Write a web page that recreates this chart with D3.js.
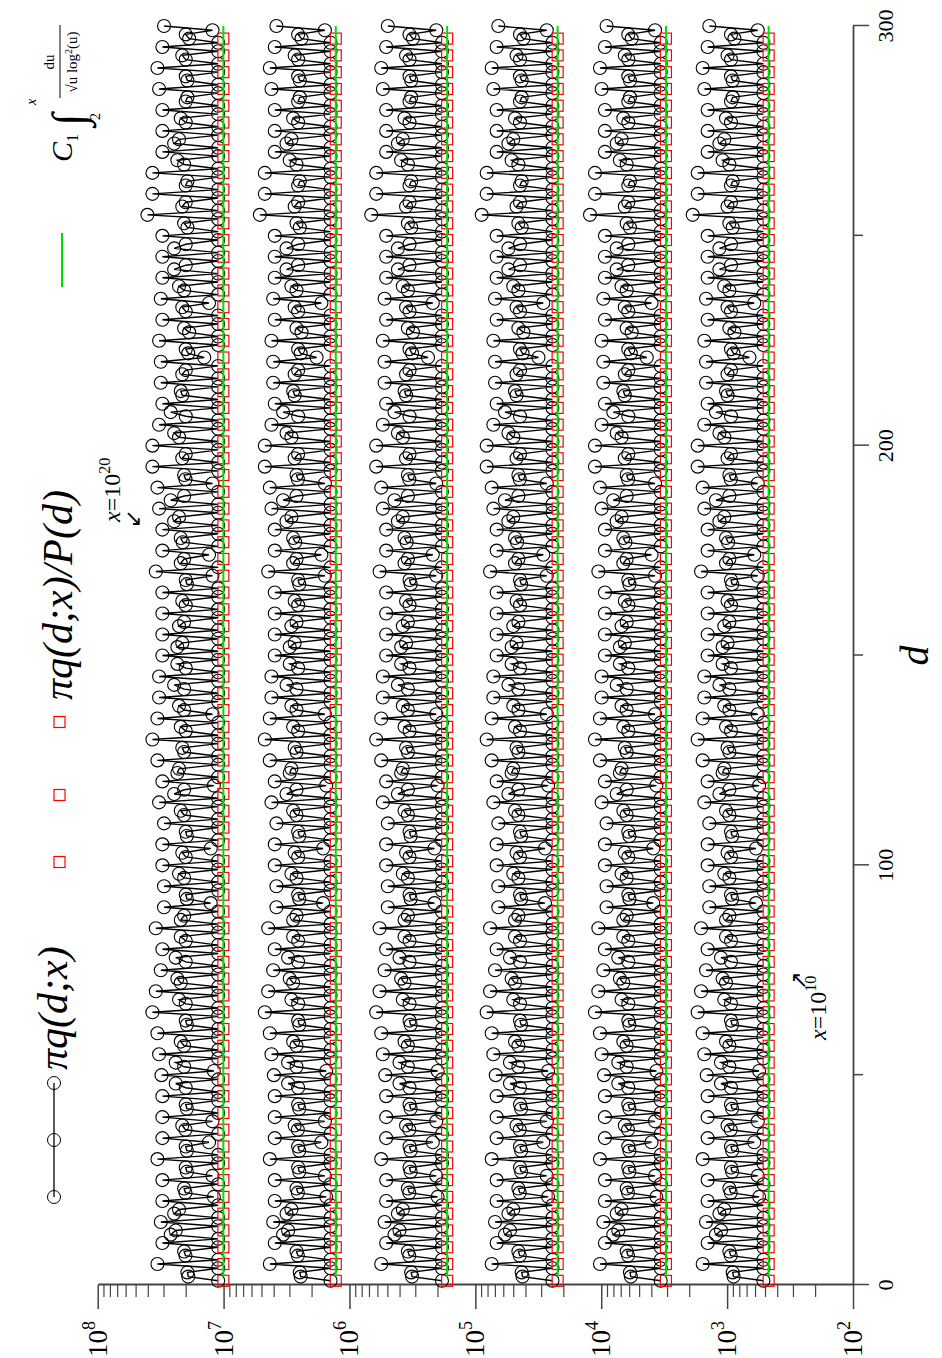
<!DOCTYPE html>
<html><head><meta charset="utf-8">
<script src="https://cdn.jsdelivr.net/npm/d3@7/dist/d3.min.js"></script>
<style>html,body{margin:0;padding:0;background:#fff;}svg{display:block;}</style>
</head><body>
<svg id="chart" width="942" height="1358"></svg>
<script>
// ---------------- data ----------------
const dValues = d3.range(1, 301);               // d = 1 .. 300
// estimated P(d) read from the circles (ratio to the C1 curve), d = 1..300
const pFactor = [
1.10,1.90,1.93,1.10,3.34, 1.10,2.00,2.05,1.10,3.05, 1.10,2.62,2.39,1.10,3.14, 1.10,2.46,2.25,1.10,3.05,
1.19,2.00,2.05,1.10,3.05, 1.22,1.95,1.99,1.10,3.34, 1.10,1.95,1.99,1.30,3.05, 1.10,2.00,2.12,1.22,3.05,
1.10,1.95,1.99,1.10,3.05, 1.10,1.99,2.39,1.10,3.10, 1.19,2.05,2.39,1.10,3.24, 1.10,2.05,2.18,1.10,3.34,
1.10,1.95,1.99,1.10,3.66, 1.10,1.99,2.25,1.10,3.44, 1.10,2.18,2.32,1.10,3.14, 1.10,1.99,2.39,1.10,3.05,
1.10,1.99,2.18,1.10,3.44, 1.10,2.18,2.05,1.10,2.96, 1.26,1.95,1.99,1.10,2.96, 1.10,2.05,2.25,1.10,3.05,
1.10,1.99,2.12,1.26,3.05, 1.10,1.95,1.99,1.10,2.96, 1.10,2.05,2.18,1.10,3.24, 1.10,2.46,2.05,1.19,3.05,
1.10,2.32,2.25,1.10,3.34, 1.10,2.05,2.12,1.10,3.66, 1.10,1.99,2.18,1.10,3.34, 1.22,2.05,2.25,1.10,3.24,
1.10,2.05,2.46,1.10,3.24, 1.10,1.99,2.32,1.10,3.05, 1.10,2.32,2.12,1.10,3.05, 1.10,2.25,2.05,1.10,3.05,
1.10,1.99,2.12,1.10,3.05, 1.10,1.95,1.99,1.22,3.44, 1.10,2.18,2.05,1.30,3.05, 1.10,2.10,2.18,1.10,3.05,
1.10,2.46,2.25,1.10,3.24, 1.10,2.62,2.05,1.10,3.34, 1.22,2.00,2.05,1.10,3.66, 1.10,2.12,1.99,1.10,3.66,
1.10,2.25,2.46,1.10,3.24, 1.10,1.99,2.62,1.10,3.05, 1.10,2.12,2.18,1.10,3.14, 1.10,2.12,1.99,1.10,3.14,
1.42,1.90,1.99,1.10,3.24, 1.10,1.87,2.05,1.10,3.05, 1.10,1.99,2.12,1.30,3.14, 1.10,2.05,2.25,1.10,3.05,
1.10,2.46,1.99,1.10,3.05, 1.10,2.46,1.99,1.10,3.05, 1.10,1.93,2.05,1.10,4.01, 1.10,2.12,1.99,1.10,3.66,
1.10,1.99,1.93,1.10,3.66, 1.10,2.05,2.32,1.10,3.05, 1.10,2.46,2.25,1.10,3.05, 1.10,1.99,2.18,1.10,3.05,
1.10,1.99,1.93,1.10,3.24, 1.10,1.93,1.99,1.10,3.34, 1.10,1.99,2.12,1.10,3.05, 1.10,1.87,1.99,1.22,2.96
];
const bandExponents = [10, 12, 14, 16, 18, 20];
const bandLevels = [468, 3063, 22200, 167500, 1285000, 10040000];   // C1 * integral
const squareD = d3.range(1, 298, 4);             // d = 1,5,...,297
const dMajorTicks = [0, 100, 200, 300];
const dMinorTicks = [50, 150, 250];
const yExps = [2, 3, 4, 5, 6, 7, 8];

// ---------------- frame (chart drawn unrotated, then turned -90deg) ----------------
const W = 1358;
const svg = d3.select("#chart");
const g = svg.append("g").attr("transform", `translate(0,${W}) rotate(-90)`);
const FONT = "'Liberation Serif','Times New Roman',serif";

const x = d3.scaleLinear().domain([0, 300]).range([73, 1332]);
const y = d3.scaleLog().domain([1e2, 1e8]).range([853, 97.7]);
const AX = "#444";

// d axis (bottom in unrotated frame)
const xa = g.append("g").attr("transform", `translate(0,${y(1e2)})`);
xa.call(d3.axisBottom(x).tickValues(dMajorTicks).tickSize(16).tickSizeOuter(0).tickFormat(""));
xa.selectAll(".tick line").attr("stroke", AX).attr("stroke-width", 1.5);
xa.select(".domain").attr("stroke", AX).attr("stroke-width", 1.8);
const xa2 = g.append("g").attr("transform", `translate(0,${y(1e2)})`);
xa2.call(d3.axisBottom(x).tickValues(dMinorTicks).tickSize(10).tickSizeOuter(0).tickFormat(""));
xa2.select(".domain").remove();
xa2.selectAll(".tick line").attr("stroke", AX).attr("stroke-width", 1.5);
g.selectAll(".dlab").data(dMajorTicks).enter().append("text")
  .attr("x", d => x(d)).attr("y", y(1e2) + 40)
  .attr("text-anchor", "middle").attr("font-family", FONT).attr("font-size", 22)
  .text(d => d);
g.append("text").attr("x", x(150)).attr("y", y(1e2) + 75).attr("text-anchor", "middle")
  .attr("font-family", FONT).attr("font-style", "italic").attr("font-size", 40).text("d");

// log axis (left in unrotated frame)
const minorVals = [];
yExps.slice(0, -1).forEach(e => { for (let k = 2; k <= 9; k++) minorVals.push(k * Math.pow(10, e)); });
const ya = g.append("g").attr("transform", `translate(${x(0)},0)`);
ya.call(d3.axisLeft(y).tickValues(yExps.map(e => Math.pow(10, e))).tickSize(24).tickSizeOuter(0).tickFormat(""));
ya.select(".domain").attr("stroke", AX).attr("stroke-width", 1.8);
ya.selectAll(".tick line").attr("stroke", AX).attr("stroke-width", 1.5);
const ya2 = g.append("g").attr("transform", `translate(${x(0)},0)`);
ya2.call(d3.axisLeft(y).tickValues(minorVals).tickSize(12).tickSizeOuter(0).tickFormat(""));
ya2.select(".domain").remove();
ya2.selectAll(".tick line").attr("stroke", AX).attr("stroke-width", 1.2);
const yl = g.selectAll(".ylab").data(yExps).enter().append("text")
  .attr("x", x(0) - 36).attr("y", e => y(Math.pow(10, e)) + 9)
  .attr("text-anchor", "end").attr("font-family", FONT).attr("font-size", 27);
yl.append("tspan").text("10");
yl.append("tspan").attr("dy", -12).attr("font-size", 18).text(e => e);

// ---------------- series ----------------
const line = d3.line().x(p => x(p.d)).y(p => y(p.v));
bandLevels.forEach((lev, i) => {
  const pts = dValues.map((d, j) => ({ d, v: lev * pFactor[j] }));
  g.append("path").datum(pts).attr("d", line).attr("fill", "none")
    .attr("stroke", "#000").attr("stroke-width", 1.4);
  g.append("g").selectAll("circle").data(pts).enter().append("circle")
    .attr("cx", p => x(p.d)).attr("cy", p => y(p.v)).attr("r", 6.5)
    .attr("fill", "none").attr("stroke", "#000").attr("stroke-width", 1.1);
  g.append("g").selectAll("rect").data(squareD).enter().append("rect")
    .attr("x", d => x(d) - 5.5).attr("y", y(lev) - 5.5).attr("width", 11).attr("height", 11)
    .attr("fill", "none").attr("stroke", "#f00").attr("stroke-width", 1.2);
  g.append("line").attr("x1", x(2)).attr("x2", x(300)).attr("y1", y(lev)).attr("y2", y(lev))
    .attr("stroke", "#00e000").attr("stroke-width", 2);
});

// ---------------- legend ----------------
g.append("line").attr("x1", 161).attr("x2", 275).attr("y1", 54).attr("y2", 54).attr("stroke", "#000").attr("stroke-width", 1.3);
[161, 218, 275].forEach(cx => g.append("circle").attr("cx", cx).attr("cy", 54).attr("r", 6.5).attr("fill", "none").attr("stroke", "#000"));
g.append("text").attr("x", 288).attr("y", 67).attr("font-family", FONT).attr("font-style", "italic").attr("font-size", 42).text("πq(d;x)");
[496, 563, 636].forEach(cx => g.append("rect").attr("x", cx - 5.5).attr("y", 54).attr("width", 11).attr("height", 11).attr("fill", "none").attr("stroke", "#f00").attr("stroke-width", 1.2));
g.append("text").attr("x", 658).attr("y", 72).attr("font-family", FONT).attr("font-style", "italic").attr("font-size", 42).text("πq(d;x)/P(d)");
const n20 = g.append("text").attr("x", 836).attr("y", 120).attr("font-family", FONT).attr("font-size", 24);
n20.append("tspan").attr("font-style", "italic").text("x");
n20.append("tspan").text("=10");
n20.append("tspan").attr("dy", -10).attr("font-size", 16).text("20");
g.append("text").attr("x", 830).attr("y", 140).attr("font-family", "'DejaVu Sans',sans-serif").attr("font-size", 22).text("↙");
const n10 = g.append("text").attr("x", 318).attr("y", 826).attr("font-family", FONT).attr("font-size", 24);
n10.append("tspan").attr("font-style", "italic").text("x");
n10.append("tspan").text("=10");
n10.append("tspan").attr("dy", -10).attr("font-size", 16).text("10");
g.append("text").attr("x", 368).attr("y", 806).attr("font-family", "'DejaVu Sans',sans-serif").attr("font-size", 22).text("↗");
g.append("line").attr("x1", 1071).attr("x2", 1125).attr("y1", 62).attr("y2", 62).attr("stroke", "#00e000").attr("stroke-width", 2);
const c1 = g.append("text").attr("x", 1196).attr("y", 72).attr("font-family", FONT).attr("font-style", "italic").attr("font-size", 30);
c1.append("tspan").text("C");
c1.append("tspan").attr("dy", 6).attr("font-size", 16).attr("font-style", "normal").text("1");
g.append("text").attr("x", 1232).attr("y", 84).attr("font-family", FONT).attr("font-size", 46).text("∫");
g.append("text").attr("x", 1253).attr("y", 36).attr("font-family", FONT).attr("font-style", "italic").attr("font-size", 14).text("x");
g.append("text").attr("x", 1238).attr("y", 100).attr("font-family", FONT).attr("font-size", 14).text("2");
g.append("text").attr("x", 1296).attr("y", 54).attr("text-anchor", "middle").attr("font-family", FONT).attr("font-size", 15).text("du");
g.append("line").attr("x1", 1260).attr("x2", 1333).attr("y1", 60).attr("y2", 60).attr("stroke", "#000").attr("stroke-width", 1);
const den = g.append("text").attr("x", 1296).attr("y", 77).attr("text-anchor", "middle").attr("font-family", FONT).attr("font-size", 15);
den.append("tspan").text("√u log");
den.append("tspan").attr("dy", -5).attr("font-size", 10).text("2");
den.append("tspan").attr("dy", 5).text("(u)");
</script>
</body></html>
